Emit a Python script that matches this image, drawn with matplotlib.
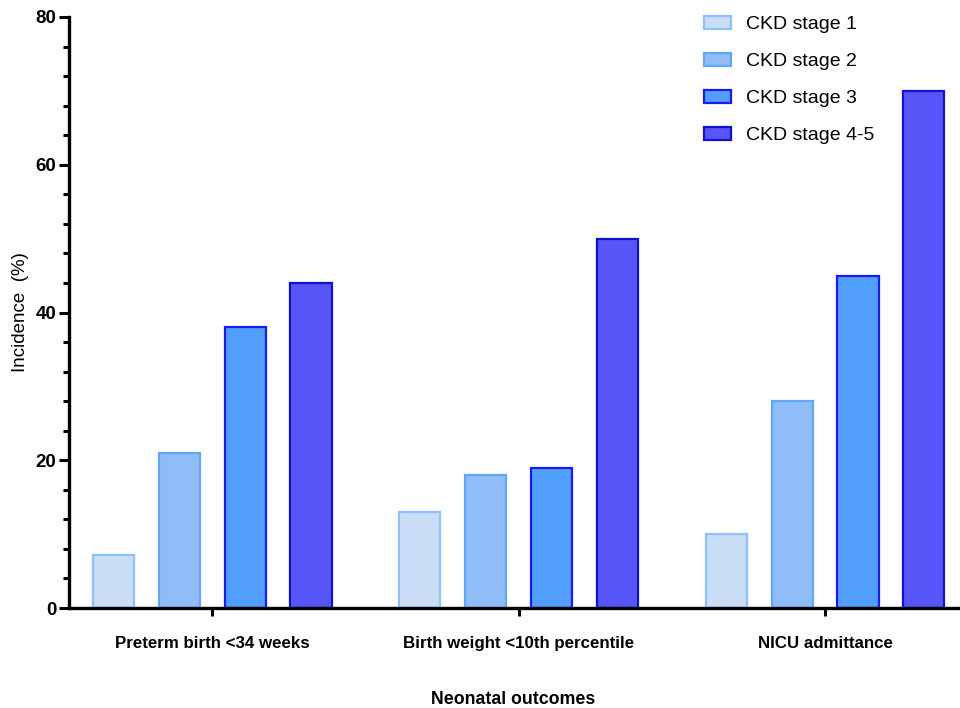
import numpy as np
import matplotlib
matplotlib.use("Agg")
import matplotlib.pyplot as plt
from matplotlib.ticker import MultipleLocator

# data
outcomes = ["Preterm birth <34 weeks", "Birth weight <10th percentile", "NICU admittance"]
stages = ["CKD stage 1", "CKD stage 2", "CKD stage 3", "CKD stage 4-5"]
stage1 = [7.2, 13, 10]
stage2 = [21, 18, 28]
stage3 = [38, 19, 45]
stage4 = [44, 50, 70]

fills = ["#c9ddf7", "#90bcf8", "#529efc", "#5656f8"]
edges = ["#8fc0f9", "#62a6f6", "#1a1af2", "#1212cc"]

fam = ["Liberation Sans", "DejaVu Sans"]

fig = plt.figure(figsize=(9.6, 7.08), dpi=100)
ax = fig.add_axes([0.0719, 0.1412, 0.9261, 0.8348])

x = np.arange(len(outcomes))
pitch = 0.215
width = 0.134
series = [stage1, stage2, stage3, stage4]
for i, vals in enumerate(series):
    ax.bar(x + (i - 1.5) * pitch, vals, width, color=fills[i], edgecolor=edges[i],
           linewidth=1.6, label=stages[i], zorder=2)

ax.set_xlim(-0.467, 2.434)
ax.set_ylim(0, 80)
ax.yaxis.set_major_locator(MultipleLocator(20))
ax.yaxis.set_minor_locator(MultipleLocator(4))
ax.set_xticks(x)
ax.set_xticklabels(outcomes, family=fam, fontweight="bold", fontsize=12.2)
for lab in ax.get_yticklabels():
    lab.set_family(fam)
    lab.set_fontweight("bold")
    lab.set_fontsize(13.5)

for s in ["top", "right"]:
    ax.spines[s].set_visible(False)
for s in ["left", "bottom"]:
    ax.spines[s].set_linewidth(2.4)
ax.tick_params(axis="y", which="major", length=7.5, width=2.2, pad=1.5)
ax.tick_params(axis="y", which="minor", length=4.5, width=2.2)
ax.tick_params(axis="x", which="major", length=6, width=2.2, pad=14)

ax.set_ylabel("Incidence  (%)", family=fam, fontsize=13.5, labelpad=4.5)
ax.set_xlabel("Neonatal outcomes", family=fam, fontweight="bold", fontsize=12.8, labelpad=29)

leg = ax.legend(loc="upper right", bbox_to_anchor=(0.926, 1.031), frameon=False,
                prop={"family": fam, "size": 14},
                handlelength=1.4, handleheight=0.6, handletextpad=0.8, labelspacing=1.03)

fig.savefig("out.png", dpi=100)
